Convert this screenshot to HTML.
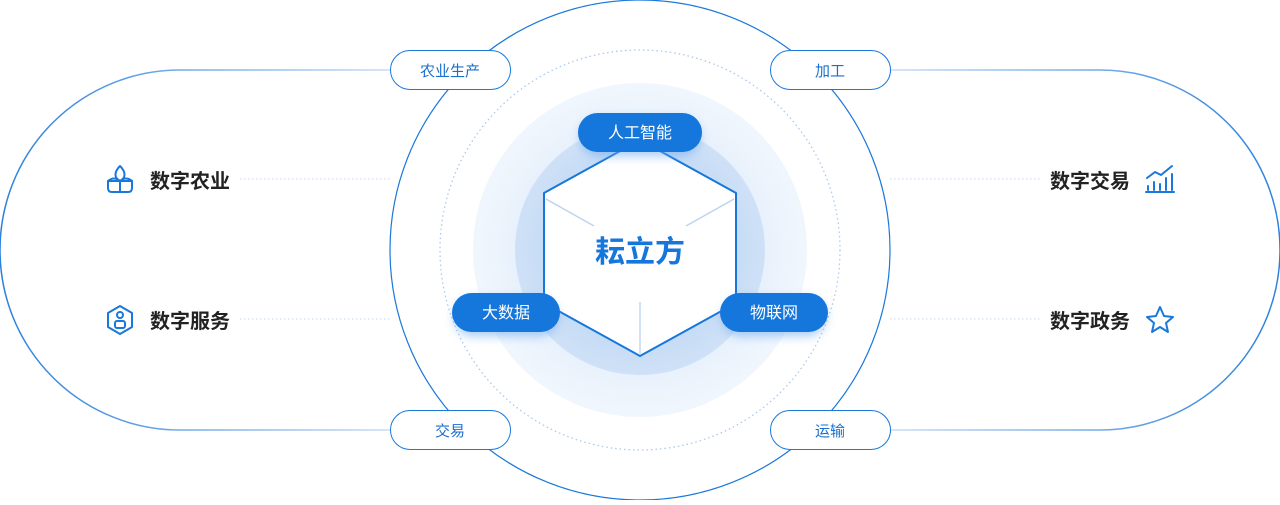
<!DOCTYPE html><html><head><meta charset="utf-8"><style>body{margin:0;width:1280px;height:500px;background:#fff;overflow:hidden;font-family:"Liberation Sans","Noto Sans CJK SC",sans-serif}</style></head><body>
<svg width="1280" height="500" viewBox="0 0 1280 500" xmlns="http://www.w3.org/2000/svg" font-family="Liberation Sans, Noto Sans CJK SC, sans-serif">
<defs>
<radialGradient id="g1"><stop offset="0.6" stop-color="#e3eefb"/><stop offset="1" stop-color="#e3eefb" stop-opacity="0.5"/></radialGradient>
<radialGradient id="g2"><stop offset="0.5" stop-color="#bcd6f3"/><stop offset="1" stop-color="#cfe1f7"/></radialGradient>
<linearGradient id="lf" x1="0" x2="1"><stop offset="0" stop-color="#2a80de"/><stop offset="1" stop-color="#c8dcf3"/></linearGradient>
<linearGradient id="rf" x1="0" x2="1"><stop offset="0" stop-color="#c8dcf3"/><stop offset="1" stop-color="#2a80de"/></linearGradient>
<filter id="sh" x="-30%" y="-50%" width="160%" height="200%"><feGaussianBlur stdDeviation="5"/></filter>
</defs>
<path d="M390 70 H180 A180 180 0 0 0 180 430 H390" fill="none" stroke="url(#lf)" stroke-width="1.5"/>
<path d="M890 70 H1100 A180 180 0 0 1 1100 430 H890" fill="none" stroke="url(#rf)" stroke-width="1.5"/>
<circle cx="640" cy="250" r="250" fill="#fff" stroke="#1a78dc" stroke-width="1.2"/>
<circle cx="640" cy="250" r="200" fill="none" stroke="#a9c9ee" stroke-width="1.3" stroke-dasharray="1.5 3"/>
<circle cx="640" cy="250" r="167" fill="url(#g1)"/>
<circle cx="640" cy="250" r="125" fill="url(#g2)"/>
<g stroke="#c5d6ea" stroke-dasharray="1.5 2.5" stroke-width="1"><line x1="240" y1="179" x2="390" y2="179"/><line x1="240" y1="319" x2="390" y2="319"/><line x1="890" y1="179" x2="1040" y2="179"/><line x1="890" y1="319" x2="1040" y2="319"/></g>
<path d="M640 140 L736 193 V303 L640 356 L544 303 V193 Z" fill="#fff" stroke="#1576db" stroke-width="2" stroke-linejoin="round"/>
<g stroke="#b9d3f2" stroke-width="1.3"><line x1="546" y1="199" x2="594" y2="226"/><line x1="734" y1="199" x2="686" y2="226"/><line x1="640" y1="302" x2="640" y2="354"/></g>
<text x="640" y="262" text-anchor="middle" font-size="30" font-weight="bold" fill="#1576db">耘立方</text>
<g fill="#6aa8ef" opacity="0.6" filter="url(#sh)"><rect x="580" y="118" width="120" height="38" rx="19"/><rect x="454" y="298" width="104" height="38" rx="19"/><rect x="722" y="298" width="104" height="38" rx="19"/></g>
<g fill="#1576db"><rect x="578" y="113" width="124" height="39" rx="19.5"/><rect x="452" y="293" width="108" height="39" rx="19.5"/><rect x="720" y="293" width="108" height="39" rx="19.5"/></g>
<g fill="#fff" font-size="16" text-anchor="middle"><text x="640" y="138">人工智能</text><text x="506" y="318">大数据</text><text x="774" y="318">物联网</text></g>
<g fill="#fff" stroke="#1a78dc" stroke-width="1"><rect x="390.5" y="50.5" width="120" height="39" rx="19.5"/><rect x="770.5" y="50.5" width="120" height="39" rx="19.5"/><rect x="390.5" y="410.5" width="120" height="39" rx="19.5"/><rect x="770.5" y="410.5" width="120" height="39" rx="19.5"/></g>
<g fill="#1a6fcc" font-size="15" text-anchor="middle"><text x="450" y="76">农业生产</text><text x="830" y="76">加工</text><text x="450" y="436">交易</text><text x="830" y="436">运输</text></g>
<g fill="#222" font-size="20" font-weight="bold"><text x="150" y="188">数字农业</text><text x="150" y="328">数字服务</text><text x="1050" y="188">数字交易</text><text x="1050" y="328">数字政务</text></g>
<g fill="none" stroke="#1a78dc" stroke-width="2" stroke-linejoin="round" stroke-linecap="round">
<path d="M120 166 C114 172 114 178 120 181 C126 178 126 172 120 166 Z"/><path d="M108 181 H132 V188 Q132 192 128 192 H112 Q108 192 108 188 Z"/><path d="M108 181 Q114 176 120 181 Q126 176 132 181"/><line x1="120" y1="181" x2="120" y2="192"/>
<path d="M120 306 L132 313 V327 L120 334 L108 327 V313 Z"/><circle cx="120" cy="315" r="3"/><rect x="115" y="321" width="10" height="7" rx="2"/>
<path d="M1146 192 H1174"/><path d="M1148 186 V190 M1154 182 V190 M1160 184 V190 M1166 178 V190 M1172 174 V190"/><path d="M1147 178 L1155 172 L1161 175 L1172 166"/>
<path d="M1160 307 L1164 316 L1173 317 L1166 323 L1168 332 L1160 327 L1152 332 L1154 323 L1147 317 L1156 316 Z"/>
</g>
</svg></body></html>
